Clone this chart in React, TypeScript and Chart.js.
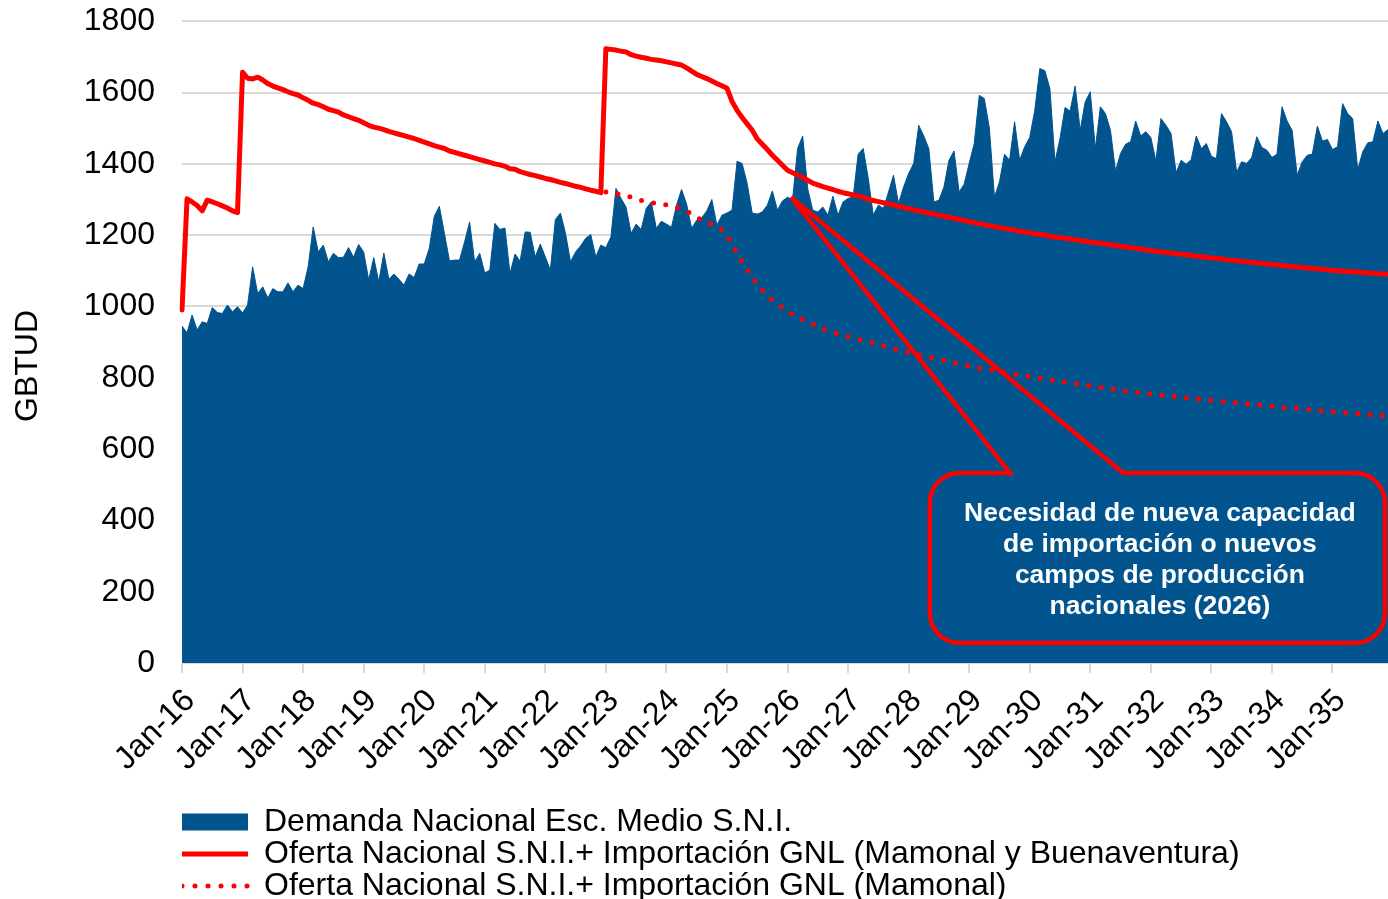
import React, { useEffect, useRef } from 'react';
import { Chart, registerables } from 'chart.js';

Chart.register(...registerables);

const FONT = 'Liberation Sans, Arial, Helvetica, sans-serif';
const BLUE = '#02548f';
const RED = '#ff0000';

const MONTHS = ['Jan', 'Feb', 'Mar', 'Apr', 'May', 'Jun', 'Jul', 'Aug', 'Sep', 'Oct', 'Nov', 'Dec'];
const YEARS = ['16', '17', '18', '19', '20', '21', '22', '23', '24', '25', '26', '27', '28', '29', '30', '31', '32', '33', '34', '35'];
const categories = YEARS.flatMap((y) => MONTHS.map((m) => `${m}-${y}`));

const Y_TITLE = 'GBTUD';
const LEGEND_LABELS = [
  'Demanda Nacional Esc. Medio S.N.I.',
  'Oferta Nacional S.N.I.+ Importación GNL (Mamonal y Buenaventura)',
  'Oferta Nacional S.N.I.+ Importación GNL (Mamonal)',
];

// Demanda Nacional Esc. Medio S.N.I. (GBTUD), monthly Jan-16 .. Dec-35
const demanda = [
  945, 926, 976, 934, 957, 952, 997, 983, 980, 1004, 985, 999,
  982, 1004, 1111, 1036, 1055, 1024, 1050, 1041, 1041, 1066, 1041, 1060,
  1050, 1111, 1223, 1153, 1172, 1125, 1149, 1137, 1138, 1165, 1138, 1174,
  1153, 1074, 1137, 1069, 1150, 1076, 1091, 1076, 1060, 1091, 1081, 1119,
  1119, 1163, 1253, 1281, 1205, 1128, 1130, 1130, 1181, 1237, 1125, 1149,
  1094, 1102, 1233, 1216, 1220, 1093, 1147, 1127, 1209, 1208, 1139, 1175,
  1139, 1102, 1244, 1262, 1205, 1125, 1153, 1170, 1191, 1202, 1139, 1172,
  1165, 1195, 1331, 1303, 1279, 1205, 1231, 1216, 1275, 1293, 1219, 1239,
  1231, 1222, 1284, 1328, 1287, 1219, 1242, 1249, 1268, 1300, 1228, 1256,
  1262, 1270, 1407, 1401, 1345, 1262, 1259, 1265, 1284, 1324, 1270, 1296,
  1306, 1300, 1443, 1478, 1330, 1270, 1265, 1279, 1256, 1309, 1256, 1293,
  1303, 1307, 1427, 1443, 1359, 1256, 1284, 1275, 1320, 1368, 1289, 1335,
  1373, 1401, 1508, 1478, 1443, 1293, 1298, 1335, 1410, 1436, 1321, 1343,
  1401, 1457, 1592, 1583, 1500, 1307, 1349, 1427, 1410, 1518, 1410, 1448,
  1474, 1550, 1667, 1661, 1611, 1406, 1471, 1558, 1548, 1618, 1494, 1574,
  1602, 1443, 1560, 1541, 1494, 1380, 1429, 1455, 1462, 1520, 1478, 1490,
  1474, 1408, 1527, 1508, 1485, 1375, 1410, 1399, 1412, 1478, 1443, 1457,
  1421, 1415, 1541, 1518, 1490, 1377, 1406, 1401, 1418, 1476, 1446, 1438,
  1418, 1427, 1560, 1520, 1494, 1368, 1406, 1424, 1427, 1506, 1464, 1468,
  1440, 1448, 1569, 1541, 1527, 1384, 1434, 1459, 1462, 1520, 1485, 1496,
];

// Oferta Nacional S.N.I.+ Importación GNL (Mamonal y Buenaventura)
const ofertaMamonalBuenaventura = [
  990, 1302, 1293, 1283, 1268, 1298, 1293, 1288, 1282, 1276, 1268, 1263,
  1657, 1640, 1638, 1643, 1635, 1625, 1618, 1613, 1608, 1602, 1597, 1593,
  1585, 1578, 1570, 1566, 1560, 1553, 1549, 1545, 1537, 1532, 1527, 1522,
  1515, 1508, 1503, 1500, 1496, 1491, 1487, 1483, 1479, 1475, 1471, 1466,
  1461, 1456, 1451, 1447, 1443, 1436, 1432, 1428, 1424, 1420, 1416, 1412,
  1408, 1404, 1400, 1397, 1393, 1386, 1385, 1378, 1374, 1370, 1367, 1363,
  1359, 1356, 1352, 1348, 1345, 1341, 1337, 1334, 1330, 1326, 1323, 1319,
  1723, 1721, 1719, 1716, 1714, 1706, 1702, 1699, 1696, 1693, 1691, 1689,
  1686, 1683, 1680, 1677, 1669, 1660, 1651, 1645, 1639, 1632, 1625, 1619,
  1612, 1575, 1550, 1530, 1512, 1494, 1470, 1455, 1440, 1424, 1410, 1396,
  1382, 1375, 1369, 1362, 1354, 1346, 1341, 1336, 1332, 1328, 1323, 1319,
  1316, 1313, 1310, 1306, 1300, 1297, 1294, 1291, 1288, 1285, 1281, 1278,
  1274, 1271, 1268, 1265, 1262, 1259, 1256, 1253, 1250, 1247, 1244, 1241,
  1238, 1235, 1232, 1229, 1226, 1224, 1221, 1219, 1216, 1214, 1211, 1209,
  1206, 1204, 1202, 1200, 1197, 1195, 1193, 1191, 1189, 1187, 1185, 1183,
  1181, 1179, 1177, 1175, 1173, 1171, 1169, 1167, 1165, 1163, 1161, 1159,
  1157, 1155, 1153, 1152, 1150, 1148, 1147, 1145, 1143, 1141, 1140, 1138,
  1136, 1135, 1133, 1131, 1130, 1128, 1127, 1125, 1124, 1122, 1121, 1119,
  1118, 1116, 1115, 1113, 1112, 1111, 1109, 1108, 1107, 1105, 1104, 1103,
  1101, 1100, 1099, 1098, 1097, 1096, 1095, 1094, 1093, 1092, 1091, 1090,
];

// Oferta Nacional S.N.I.+ Importación GNL (Mamonal) — shown from Jan-23
const ofertaMamonal = [
  null, null, null, null, null, null, null, null, null, null, null, null,
  null, null, null, null, null, null, null, null, null, null, null, null,
  null, null, null, null, null, null, null, null, null, null, null, null,
  null, null, null, null, null, null, null, null, null, null, null, null,
  null, null, null, null, null, null, null, null, null, null, null, null,
  null, null, null, null, null, null, null, null, null, null, null, null,
  null, null, null, null, null, null, null, null, null, null, null, null,
  1321, 1319, 1316, 1314, 1312, 1306, 1300, 1297, 1294, 1291, 1289, 1287,
  1285, 1282, 1278, 1274, 1268, 1259, 1249, 1243, 1236, 1230, 1223, 1215,
  1198, 1172, 1150, 1126, 1104, 1083, 1063, 1046, 1030, 1017, 1006, 996,
  985, 977, 970, 963, 956, 950, 944, 938, 933, 928, 923, 919,
  916, 912, 908, 904, 900, 897, 893, 890, 886, 882, 877, 874,
  871, 868, 864, 861, 858, 855, 852, 849, 846, 842, 839, 836,
  834, 831, 827, 825, 823, 820, 817, 815, 813, 810, 808, 806,
  803, 801, 799, 796, 794, 792, 790, 788, 786, 784, 782, 780,
  778, 775, 773, 771, 769, 767, 765, 763, 761, 759, 758, 756,
  754, 753, 751, 750, 748, 747, 745, 744, 742, 741, 740, 738,
  737, 735, 734, 732, 731, 730, 728, 727, 725, 724, 723, 721,
  720, 719, 717, 716, 715, 714, 712, 711, 710, 709, 707, 706,
  705, 704, 703, 701, 700, 699, 698, 697, 696, 695, 694, 692,
];

// Callout annotation anchored in data coordinates (category index / GBTUD)
const CALLOUT_LINES = [
  'Necesidad de nueva capacidad',
  'de importación o nuevos',
  'campos de producción',
  'nacionales (2026)',
];
const CALLOUT_ANCHOR = {
  tipIndex: 120.7,
  tipValue: 1306,
  left: 148.2,
  right: 238.4,
  top: 533,
  bottom: 56,
  wedgeFrom: 164.1,
  wedgeTo: 186.5,
  textIndex: 193.8,
};
// vertical anchor (in GBTUD) of the centre of the y-axis title
const Y_TITLE_ANCHOR = 833;

const calloutPlugin = {
  id: 'calloutBox',
  afterDatasetsDraw(chart: any) {
    const { ctx } = chart;
    const xs = chart.scales.x;
    const ys = chart.scales.y;
    const px = (i: number) => xs.getPixelForValue(i);
    const py = (v: number) => ys.getPixelForValue(v);
    const L = px(CALLOUT_ANCHOR.left);
    const R = px(CALLOUT_ANCHOR.right);
    const T = py(CALLOUT_ANCHOR.top);
    const B = py(CALLOUT_ANCHOR.bottom);
    const w1 = px(CALLOUT_ANCHOR.wedgeFrom);
    const w2 = px(CALLOUT_ANCHOR.wedgeTo);
    const tx = px(CALLOUT_ANCHOR.tipIndex);
    const ty = py(CALLOUT_ANCHOR.tipValue);
    const r = 30;
    ctx.save();
    ctx.beginPath();
    ctx.moveTo(L + r, T);
    ctx.lineTo(w1, T);
    ctx.lineTo(tx, ty);
    ctx.lineTo(w2, T);
    ctx.lineTo(R - r, T);
    ctx.arcTo(R, T, R, T + r, r);
    ctx.lineTo(R, B - r);
    ctx.arcTo(R, B, R - r, B, r);
    ctx.lineTo(L + r, B);
    ctx.arcTo(L, B, L, B - r, r);
    ctx.lineTo(L, T + r);
    ctx.arcTo(L, T, L + r, T, r);
    ctx.closePath();
    ctx.strokeStyle = RED;
    ctx.lineWidth = 4.5;
    ctx.lineJoin = 'miter';
    ctx.miterLimit = 3;
    ctx.stroke();

    ctx.fillStyle = '#ffffff';
    ctx.font = `bold 26.5px ${FONT}`;
    ctx.textAlign = 'center';
    ctx.textBaseline = 'middle';
    const cx = px(CALLOUT_ANCHOR.textIndex);
    const cy = (T + B) / 2 + 2;
    const lh = 31;
    CALLOUT_LINES.forEach((line, k) => {
      ctx.fillText(line, cx, cy + (k - (CALLOUT_LINES.length - 1) / 2) * lh);
    });
    ctx.restore();
  },
  afterDraw(chart: any) {
    const { ctx } = chart;
    const ys = chart.scales.y;
    ctx.save();
    ctx.translate(28, ys.getPixelForValue(Y_TITLE_ANCHOR));
    ctx.rotate(-Math.PI / 2);
    ctx.fillStyle = '#000000';
    ctx.font = `32px ${FONT}`;
    ctx.textAlign = 'center';
    ctx.textBaseline = 'middle';
    ctx.fillText(Y_TITLE, 0, 0);
    ctx.restore();
  },
};

export default function App() {
  const ref = useRef<HTMLCanvasElement>(null);

  useEffect(() => {
    document.body.style.margin = '0';
    Chart.defaults.font.family = FONT;
    const canvas = ref.current;
    if (!canvas) return;
    const chart = new Chart(canvas, {
      type: 'line',
      data: {
        labels: categories,
        datasets: [
          {
            label: LEGEND_LABELS[1],
            data: ofertaMamonalBuenaventura,
            borderColor: RED,
            backgroundColor: RED,
            borderWidth: 5,
            pointRadius: 0,
            fill: false,
            tension: 0,
            borderJoinStyle: 'round',
            borderCapStyle: 'round',
            order: 1,
          },
          {
            label: LEGEND_LABELS[2],
            data: ofertaMamonal,
            borderColor: RED,
            backgroundColor: RED,
            borderWidth: 5,
            borderDash: [0, 12.3],
            borderCapStyle: 'round',
            pointRadius: 0,
            fill: false,
            tension: 0,
            order: 2,
          },
          {
            label: LEGEND_LABELS[0],
            data: demanda,
            borderColor: BLUE,
            backgroundColor: BLUE,
            borderWidth: 1,
            pointRadius: 0,
            fill: 'origin',
            tension: 0,
            order: 3,
          },
        ],
      } as any,
      options: {
        animation: false,
        responsive: false,
        devicePixelRatio: 1,
        events: [],
        layout: { padding: { top: 0, left: 0, right: 0, bottom: 0 } },
        plugins: {
          tooltip: { enabled: false },
          legend: {
            position: 'bottom',
            align: 'start',
            fullSize: false,
            labels: {
              color: '#000000',
              font: { size: 32, family: FONT },
              padding: 0,
              usePointStyle: true,
              pointStyleWidth: 66,
              boxHeight: 17,
              generateLabels: () => [
                {
                  text: LEGEND_LABELS[0],
                  fillStyle: BLUE,
                  strokeStyle: BLUE,
                  lineWidth: 0,
                  pointStyle: 'rect',
                  hidden: false,
                  datasetIndex: 2,
                  fontColor: '#000000',
                },
                {
                  text: LEGEND_LABELS[1],
                  fillStyle: RED,
                  strokeStyle: RED,
                  lineWidth: 5,
                  lineCap: 'butt',
                  pointStyle: 'line',
                  hidden: false,
                  datasetIndex: 0,
                  fontColor: '#000000',
                },
                {
                  text: LEGEND_LABELS[2],
                  fillStyle: RED,
                  strokeStyle: RED,
                  lineWidth: 5,
                  lineCap: 'round',
                  lineDash: [0, 13],
                  pointStyle: 'line',
                  hidden: false,
                  datasetIndex: 1,
                  fontColor: '#000000',
                },
              ],
            },
          },
        },
        scales: {
          x: {
            type: 'category',
            offset: false,
            grid: {
              display: true,
              drawOnChartArea: false,
              drawTicks: true,
              tickLength: 10,
              color: '#d9d9d9',
              lineWidth: 2,
            },
            border: { display: true, color: '#d9d9d9', width: 1 },
            ticks: {
              autoSkip: false,
              maxRotation: 45,
              minRotation: 45,
              padding: 9,
              labelOffset: 8,
              color: '#000000',
              font: { size: 32, family: FONT },
              callback: function (this: any, value: any, index: number) {
                return index % 12 === 0 ? this.getLabelForValue(value) : null;
              },
            },
            afterFit: (scale: any) => {
              scale.height = 143;
            },
          },
          y: {
            min: 0,
            max: 1800,
            ticks: {
              stepSize: 200,
              padding: 2,
              color: '#000000',
              font: { size: 32, family: FONT },
              callback: (value: any) => String(value),
            },
            grid: {
              color: '#d9d9d9',
              lineWidth: 2,
              drawTicks: true,
              tickLength: 25,
              tickColor: 'rgba(0,0,0,0)',
            },
            border: { display: false },
            title: { display: false },
            afterFit: (scale: any) => {
              scale.width = 182;
            },
          },
        },
      } as any,
      plugins: [calloutPlugin],
    });
    return () => chart.destroy();
  }, []);

  return (
    <div style={{ width: 1388, height: 899, overflow: 'hidden' }}>
      <canvas ref={ref} width={1388} height={912} style={{ display: 'block' }} />
    </div>
  );
}
